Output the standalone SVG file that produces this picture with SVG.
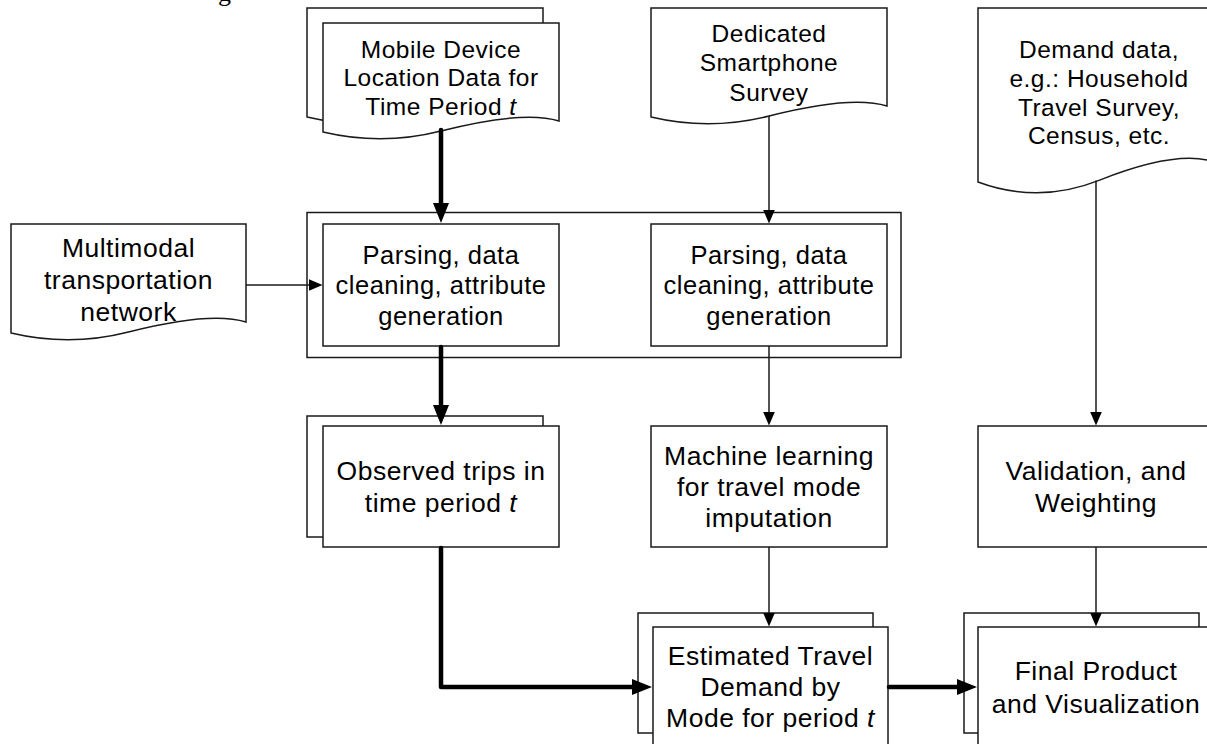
<svg xmlns="http://www.w3.org/2000/svg" width="1207" height="744" viewBox="0 0 1207 744">
<defs>
<style>
.shape{fill:#fff;stroke:#1a1a1a;stroke-width:1.5}
.lbl{font-family:"Liberation Sans",Arial,Helvetica,sans-serif;fill:#000;text-anchor:middle;letter-spacing:0.5px}
.s1{font-size:24.5px}
.s2{font-size:25.5px}
.s3{font-size:26.5px}
.thin{fill:none;stroke:#1a1a1a;stroke-width:1.5}
.thick{fill:none;stroke:#000;stroke-width:4.5;stroke-linejoin:round;stroke-linecap:round}
.it{font-style:italic}
</style>
<marker id="ah" markerUnits="userSpaceOnUse" markerWidth="14" markerHeight="12" refX="0.5" refY="6" orient="auto">
<path d="M0,0 L14,6 L0,12 Z" fill="#000"/>
</marker>
<marker id="ahb" markerUnits="userSpaceOnUse" markerWidth="20" markerHeight="16" refX="1" refY="8" orient="auto">
<path d="M0,0 L20,8 L0,16 Z" fill="#000"/>
</marker>
</defs>
<rect width="1207" height="744" fill="#fff"/>
<text x="218" y="1" style="font-family:'Liberation Serif','Times New Roman',serif;font-size:26px">g</text>

<g id="container">
<rect class="shape" x="307" y="212.5" width="594" height="145"/>
</g>

<g id="mobile">
<path class="shape" d="M307,8 H543 V106 Q507.6,95 425,116 Q366,131 307,117 Z"/>
<path class="shape" d="M323,23 H559 V121 Q523.6,110 441,131 Q382,146 323,132 Z"/>
<text class="lbl s1" x="441" y="57.5">Mobile Device</text>
<text class="lbl s1" x="441" y="86">Location Data for</text>
<text class="lbl s1" x="441" y="114.5">Time Period <tspan class="it">t</tspan></text>
</g>

<g id="dedicated">
<path class="shape" d="M651,8 H887 V106 Q851.6,95 769,116 Q710,131 651,117 Z"/>
<text class="lbl s1" x="769" y="41.5">Dedicated</text>
<text class="lbl s1" x="769" y="71">Smartphone</text>
<text class="lbl s1" x="769" y="100.5">Survey</text>
</g>

<g id="demand">
<path class="shape" d="M978,8 H1220 V164.4 Q1183.7,146.8 1099,180.4 Q1038.5,204.4 978,182 Z"/>
<text class="lbl s1" x="1099" y="58">Demand data,</text>
<text class="lbl s1" x="1099" y="87">e.g.: Household</text>
<text class="lbl s1" x="1099" y="115.5">Travel Survey,</text>
<text class="lbl s1" x="1099" y="144">Census, etc.</text>
</g>

<g id="multimodal">
<path class="shape" d="M11,224 H246 V322 Q210.75,311 128.5,332 Q69.75,347 11,333 Z"/>
<text class="lbl s3" x="128.5" y="257">Multimodal</text>
<text class="lbl s3" x="128.5" y="289">transportation</text>
<text class="lbl s3" x="128.5" y="320.5">network</text>
</g>

<g id="parsing1">
<rect class="shape" x="323" y="224" width="236" height="122"/>
<text class="lbl s2" x="441" y="263.5">Parsing, data</text>
<text class="lbl s2" x="441" y="294">cleaning, attribute</text>
<text class="lbl s2" x="441" y="324.5">generation</text>
</g>

<g id="parsing2">
<rect class="shape" x="651" y="224" width="236" height="122"/>
<text class="lbl s2" x="769" y="263.5">Parsing, data</text>
<text class="lbl s2" x="769" y="294">cleaning, attribute</text>
<text class="lbl s2" x="769" y="324.5">generation</text>
</g>

<g id="observed">
<rect class="shape" x="307" y="416" width="236" height="121"/>
<rect class="shape" x="323" y="426" width="236" height="121"/>
<text class="lbl s3" x="441" y="480">Observed trips in</text>
<text class="lbl s3" x="441" y="511.5">time period <tspan class="it">t</tspan></text>
</g>

<g id="ml">
<rect class="shape" x="651" y="426" width="236" height="121"/>
<text class="lbl s3" x="769" y="465">Machine learning</text>
<text class="lbl s3" x="769" y="496">for travel mode</text>
<text class="lbl s3" x="769" y="527">imputation</text>
</g>

<g id="validation">
<rect class="shape" x="978" y="426" width="236" height="121"/>
<text class="lbl s3" x="1096" y="480">Validation, and</text>
<text class="lbl s3" x="1096" y="511.5">Weighting</text>
</g>

<g id="estimated">
<rect class="shape" x="638" y="613" width="235" height="120"/>
<rect class="shape" x="653" y="627" width="235" height="121"/>
<text class="lbl s3" x="770.5" y="665">Estimated Travel</text>
<text class="lbl s3" x="770.5" y="696">Demand by</text>
<text class="lbl s3" x="770.5" y="727">Mode for period <tspan class="it">t</tspan></text>
</g>

<g id="final">
<rect class="shape" x="964" y="613" width="235" height="120"/>
<rect class="shape" x="978" y="627" width="236" height="121"/>
<text class="lbl s3" x="1096" y="680">Final Product</text>
<text class="lbl s3" x="1096" y="712.5">and Visualization</text>
</g>

<g id="connectors">
<path class="thick" d="M441,130 V204" marker-end="url(#ahb)"/>
<path class="thin" d="M769,116 V210" marker-end="url(#ah)"/>
<path class="thin" d="M246,285 H309" marker-end="url(#ah)"/>
<path class="thick" d="M441,347 V406" marker-end="url(#ahb)"/>
<path class="thin" d="M769,346 V412" marker-end="url(#ah)"/>
<path class="thin" d="M1096,180.5 V412" marker-end="url(#ah)"/>
<path class="thick" d="M441,548 V687 H633" marker-end="url(#ahb)"/>
<path class="thin" d="M769,547 V613" marker-end="url(#ah)"/>
<path class="thick" d="M889,687 H958" marker-end="url(#ahb)"/>
<path class="thin" d="M1096,547 V613" marker-end="url(#ah)"/>
</g>
</svg>
